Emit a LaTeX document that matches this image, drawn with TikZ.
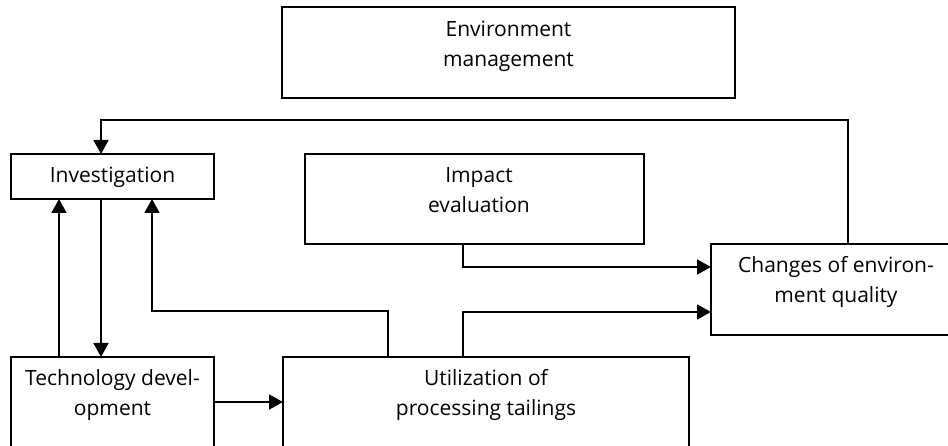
\documentclass[tikz,border=0pt]{standalone}
\usepackage{fontspec}
\setmainfont{Open Sans}
\usetikzlibrary{arrows.meta}
\begin{document}
\begin{tikzpicture}[x=1pt,y=-1pt,
  box/.style={draw, line width=1.8pt, inner sep=0pt, outer sep=0pt},
  lbl/.style={anchor=base, align=center, inner sep=0pt, font=\fontsize{21}{30}\selectfont},
  conn/.style={line width=1.8pt},
  arr/.style={conn, -{Triangle[length=14pt,width=15pt]}}]
\useasboundingbox (0,0) rectangle (948,446);
% boxes
\node[box, minimum width=453pt, minimum height=91pt] (env) at (508.5,52.5) {};
\node[box, minimum width=203pt, minimum height=45pt] (inv) at (112.5,176.5) {};
\node[box, minimum width=339pt, minimum height=90pt] (imp) at (474.5,199) {};
\node[box, minimum width=250pt, minimum height=91pt] (chg) at (836,289.5) {};
\node[box, minimum width=203pt, minimum height=110pt] (tech) at (112.5,412) {};
\node[box, minimum width=406pt, minimum height=110pt] (util) at (486,412) {};
% labels (base = baseline of last line)
\node[lbl] (envt) at (508.5,66.5) {Environment\\management};
\node[lbl] (invt) at (112.5,183) {Investigation};
\node[lbl] (impt) at (479,213) {Impact\\evaluation};
\node[lbl] (chgt) at (836,303) {Changes of environ-\\ment quality};
\node[lbl] (techt) at (112.5,415) {Technology devel-\\opment};
\node[lbl] (utilt) at (486,415) {Utilization of\\processing tailings};
% helper coordinates
\coordinate (xa) at (848,120);
\coordinate (xb) at (101,120);
\coordinate (xc) at (59,0);
\coordinate (xd) at (388,311);
\coordinate (xe) at (152,311);
\coordinate (xf) at (0,402);
\coordinate (xg) at (463,267);
\coordinate (xh) at (463,312);
% connectors
\draw[arr] (xa |- chg.north) -- (xa) -- (xb) -- (xb |- inv.north);
\draw[arr] (xb |- inv.south) -- (xb |- tech.north);
\draw[arr] (xc |- tech.north) -- (xc |- inv.south);
\draw[arr] (xd |- util.north) -- (xd) -- (xe) -- (xe |- inv.south);
\draw[arr] (tech.east |- xf) -- (util.west |- xf);
\draw[arr] (xg |- imp.south) -- (xg) -- (xg -| chg.west);
\draw[arr] (xh |- util.north) -- (xh) -- (xh -| chg.west);
\end{tikzpicture}
\end{document}
